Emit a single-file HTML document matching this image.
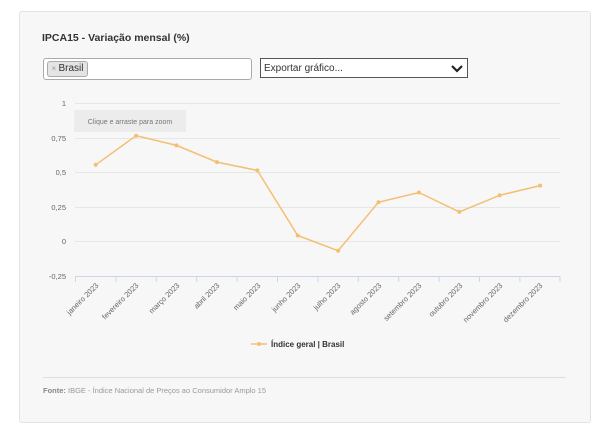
<!DOCTYPE html><html><head><style>
body{margin:0;background:#fff;font-family:"Liberation Sans",sans-serif;}
.card{position:absolute;left:19px;top:11px;width:570px;height:410px;background:#f7f7f7;border:1px solid #e3e3e3;border-radius:3px;}
</style></head><body>
<div class="card"></div>
<div style="position:absolute;left:42px;top:32px;font-size:10.5px;font-weight:bold;color:#333">IPCA15 - Variação mensal (%)</div>
<div style="position:absolute;left:43px;top:58px;width:207px;height:20px;border:1px solid #aaa;border-radius:3px;background:#fff"></div>
<div style="position:absolute;left:47px;top:61px;width:39px;height:14px;border:1px solid #aaa;border-radius:3px;background:#e4e4e4;font-size:10px;color:#333;line-height:14px;text-align:center"><span style="color:#999;font-size:8px">× </span>Brasil</div>
<div style="position:absolute;left:260px;top:58px;width:208px;height:20px;border:1px solid #555;background:#fff;font-size:10px;color:#333;line-height:20px;padding-left:3px;box-sizing:border-box">Exportar gráfico...</div>
<svg style="position:absolute;left:450px;top:64px" width="14" height="9"><path d="M2 2 L7 7 L12 2" stroke="#222" stroke-width="2.2" fill="none"/></svg>
<svg style="position:absolute;left:0;top:0" width="613" height="431" font-family="Liberation Sans,sans-serif">
<g stroke="#e6e6e6" stroke-width="1">
<line x1="75" x2="560" y1="103.5" y2="103.5"/><line x1="75" x2="560" y1="138.5" y2="138.5"/><line x1="75" x2="560" y1="172.5" y2="172.5"/><line x1="75" x2="560" y1="207.5" y2="207.5"/><line x1="75" x2="560" y1="241.5" y2="241.5"/>
</g>
<line x1="75" x2="560" y1="276.5" y2="276.5" stroke="#ccd6eb"/>
<g stroke="#ccd6eb">
<line x1="75.5" x2="75.5" y1="276" y2="282"/><line x1="115.9" x2="115.9" y1="276" y2="282"/><line x1="156.3" x2="156.3" y1="276" y2="282"/><line x1="196.7" x2="196.7" y1="276" y2="282"/><line x1="237.1" x2="237.1" y1="276" y2="282"/><line x1="277.5" x2="277.5" y1="276" y2="282"/><line x1="317.9" x2="317.9" y1="276" y2="282"/><line x1="358.3" x2="358.3" y1="276" y2="282"/><line x1="398.7" x2="398.7" y1="276" y2="282"/><line x1="439.1" x2="439.1" y1="276" y2="282"/><line x1="479.5" x2="479.5" y1="276" y2="282"/><line x1="519.9" x2="519.9" y1="276" y2="282"/><line x1="560" x2="560" y1="276" y2="282"/>
</g>
<g font-size="7.5" fill="#666" text-anchor="end">
<text x="66" y="106">1</text><text x="66" y="141">0,75</text><text x="66" y="175">0,5</text><text x="66" y="210">0,25</text><text x="66" y="244">0</text><text x="66" y="279">-0,25</text>
</g>
<rect x="74" y="110" width="112" height="22" fill="#ececec"/>
<text x="130" y="124" font-size="7" fill="#777" text-anchor="middle">Clique e arraste para zoom</text>
<polyline fill="none" stroke="#f5bf73" stroke-width="1.5" points="95.7,164.8 136.1,135.7 176.5,145.4 216.9,162.1 257.3,170.4 297.7,235.5 338.1,250.7 378.5,202.2 418.9,192.5 459.3,211.9 499.7,195.3 540.1,185.6"/>
<g fill="#f5bf73">
<circle cx="95.7" cy="164.8" r="2"/><circle cx="136.1" cy="135.7" r="2"/><circle cx="176.5" cy="145.4" r="2"/><circle cx="216.9" cy="162.1" r="2"/><circle cx="257.3" cy="170.4" r="2"/><circle cx="297.7" cy="235.5" r="2"/><circle cx="338.1" cy="250.7" r="2"/><circle cx="378.5" cy="202.2" r="2"/><circle cx="418.9" cy="192.5" r="2"/><circle cx="459.3" cy="211.9" r="2"/><circle cx="499.7" cy="195.3" r="2"/><circle cx="540.1" cy="185.6" r="2"/>
</g>
<g font-size="7.5" fill="#666" text-anchor="end">
<text transform="translate(99,286) rotate(-45)">janeiro 2023</text>
<text transform="translate(139,286) rotate(-45)">fevereiro 2023</text>
<text transform="translate(180,286) rotate(-45)">março 2023</text>
<text transform="translate(220,286) rotate(-45)">abril 2023</text>
<text transform="translate(261,286) rotate(-45)">maio 2023</text>
<text transform="translate(301,286) rotate(-45)">junho 2023</text>
<text transform="translate(341,286) rotate(-45)">julho 2023</text>
<text transform="translate(382,286) rotate(-45)">agosto 2023</text>
<text transform="translate(422,286) rotate(-45)">setembro 2023</text>
<text transform="translate(463,286) rotate(-45)">outubro 2023</text>
<text transform="translate(503,286) rotate(-45)">novembro 2023</text>
<text transform="translate(543,286) rotate(-45)">dezembro 2023</text>
</g>
<line x1="251" x2="267" y1="344" y2="344" stroke="#f5bf73" stroke-width="1.5"/><circle cx="259" cy="344" r="2" fill="#f5bf73"/>
<text x="271" y="347" font-size="8" font-weight="bold" fill="#333">Índice geral | Brasil</text>
<line x1="43" x2="566" y1="377.5" y2="377.5" stroke="#ddd"/>
<text x="43" y="393" font-size="7.5" fill="#999"><tspan font-weight="bold" fill="#888">Fonte:</tspan> IBGE - Índice Nacional de Preços ao Consumidor Amplo 15</text>
</svg>
</body></html>
